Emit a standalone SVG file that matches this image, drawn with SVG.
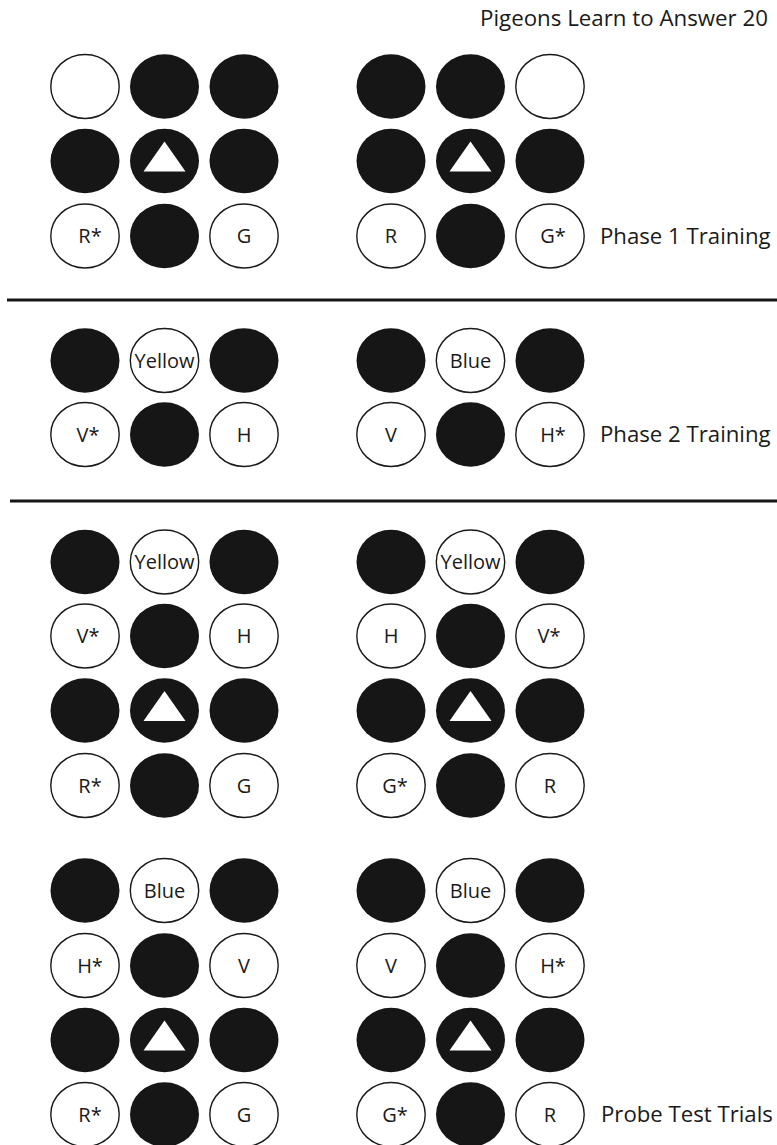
<svg xmlns="http://www.w3.org/2000/svg" xmlns:xlink="http://www.w3.org/1999/xlink" width="777" height="1145" viewBox="0 0 777 1145">
<style>
.k{fill:#161616;stroke:none}
.w{fill:#fff;stroke:#1a1a1a;stroke-width:1.4}
.t{fill:#fff}
.lb{font-family:"Open Sans","Noto Sans",sans-serif;font-size:20px;fill:#1a1a1a;text-anchor:middle}
.ph{font-family:"Open Sans","Noto Sans",sans-serif;font-size:22.2px;fill:#1a1a1a}
.sep{stroke:#161616;stroke-width:3}
</style>
<defs>
<ellipse id="B" class="k" cx="0" cy="0" rx="34.5" ry="32.3"/>
<ellipse id="W" class="w" cx="0" cy="0" rx="34.2" ry="32"/>
<g id="T"><ellipse class="k" cx="0" cy="0" rx="34.5" ry="32.3"/><polygon class="t" points="0,-19.5 21,10.5 -21,10.5"/></g>
</defs>
<rect width="777" height="1145" fill="#fff"/>
<text id="title" class="ph" x="768" y="26" text-anchor="end" textLength="288" lengthAdjust="spacingAndGlyphs">Pigeons Learn to Answer 20</text>

<g id="separators">
<line class="sep" x1="7" y1="300" x2="777" y2="300"/>
<line class="sep" x1="10" y1="501" x2="777" y2="501"/>
</g>
<g id="connectors"/>

<!-- Phase 1 left -->
<g id="p1L">
<g id="p1L-a1" transform="translate(85,86.5)"><use xlink:href="#W"/></g>
<g id="p1L-a2" transform="translate(164.5,86.5)"><use xlink:href="#B"/></g>
<g id="p1L-a3" transform="translate(244,86.5)"><use xlink:href="#B"/></g>
<g id="p1L-b1" transform="translate(85,161)"><use xlink:href="#B"/></g>
<g id="p1L-b2" transform="translate(164.5,161)"><use xlink:href="#T"/></g>
<g id="p1L-b3" transform="translate(244,161)"><use xlink:href="#B"/></g>
<g id="p1L-c1" transform="translate(85,236)"><use xlink:href="#W"/><text class="lb" x="5" y="7">R*</text></g>
<g id="p1L-c2" transform="translate(164.5,236)"><use xlink:href="#B"/></g>
<g id="p1L-c3" transform="translate(244,236)"><use xlink:href="#W"/><text class="lb" x="0" y="7">G</text></g>
</g>
<!-- Phase 1 right -->
<g id="p1R">
<g id="p1R-a1" transform="translate(391,86.5)"><use xlink:href="#B"/></g>
<g id="p1R-a2" transform="translate(470.5,86.5)"><use xlink:href="#B"/></g>
<g id="p1R-a3" transform="translate(550,86.5)"><use xlink:href="#W"/></g>
<g id="p1R-b1" transform="translate(391,161)"><use xlink:href="#B"/></g>
<g id="p1R-b2" transform="translate(470.5,161)"><use xlink:href="#T"/></g>
<g id="p1R-b3" transform="translate(550,161)"><use xlink:href="#B"/></g>
<g id="p1R-c1" transform="translate(391,236)"><use xlink:href="#W"/><text class="lb" x="0" y="7">R</text></g>
<g id="p1R-c2" transform="translate(470.5,236)"><use xlink:href="#B"/></g>
<g id="p1R-c3" transform="translate(550,236)"><use xlink:href="#W"/><text class="lb" x="3" y="7">G*</text></g>
</g>
<text id="lab-p1" class="ph" x="600" y="243.5">Phase 1 Training</text>

<!-- Phase 2 left -->
<g id="p2L">
<g id="p2L-a1" transform="translate(85,360.5)"><use xlink:href="#B"/></g>
<g id="p2L-a2" transform="translate(164.5,360.5)"><use xlink:href="#W"/><text class="lb" x="0" y="7">Yellow</text></g>
<g id="p2L-a3" transform="translate(244,360.5)"><use xlink:href="#B"/></g>
<g id="p2L-b1" transform="translate(85,434.5)"><use xlink:href="#W"/><text class="lb" x="3" y="7">V*</text></g>
<g id="p2L-b2" transform="translate(164.5,434.5)"><use xlink:href="#B"/></g>
<g id="p2L-b3" transform="translate(244,434.5)"><use xlink:href="#W"/><text class="lb" x="0" y="7">H</text></g>
</g>
<!-- Phase 2 right -->
<g id="p2R">
<g id="p2R-a1" transform="translate(391,360.5)"><use xlink:href="#B"/></g>
<g id="p2R-a2" transform="translate(470.5,360.5)"><use xlink:href="#W"/><text class="lb" x="0" y="7">Blue</text></g>
<g id="p2R-a3" transform="translate(550,360.5)"><use xlink:href="#B"/></g>
<g id="p2R-b1" transform="translate(391,434.5)"><use xlink:href="#W"/><text class="lb" x="0" y="7">V</text></g>
<g id="p2R-b2" transform="translate(470.5,434.5)"><use xlink:href="#B"/></g>
<g id="p2R-b3" transform="translate(550,434.5)"><use xlink:href="#W"/><text class="lb" x="3" y="7">H*</text></g>
</g>
<text id="lab-p2" class="ph" x="600" y="442">Phase 2 Training</text>

<!-- Probe 1 left -->
<g id="q1L">
<g id="q1L-a1" transform="translate(85,562)"><use xlink:href="#B"/></g>
<g id="q1L-a2" transform="translate(164.5,562)"><use xlink:href="#W"/><text class="lb" x="0" y="7">Yellow</text></g>
<g id="q1L-a3" transform="translate(244,562)"><use xlink:href="#B"/></g>
<g id="q1L-b1" transform="translate(85,636)"><use xlink:href="#W"/><text class="lb" x="3" y="7">V*</text></g>
<g id="q1L-b2" transform="translate(164.5,636)"><use xlink:href="#B"/></g>
<g id="q1L-b3" transform="translate(244,636)"><use xlink:href="#W"/><text class="lb" x="0" y="7">H</text></g>
<g id="q1L-c1" transform="translate(85,710.5)"><use xlink:href="#B"/></g>
<g id="q1L-c2" transform="translate(164.5,710.5)"><use xlink:href="#T"/></g>
<g id="q1L-c3" transform="translate(244,710.5)"><use xlink:href="#B"/></g>
<g id="q1L-d1" transform="translate(85,785.5)"><use xlink:href="#W"/><text class="lb" x="5" y="7">R*</text></g>
<g id="q1L-d2" transform="translate(164.5,785.5)"><use xlink:href="#B"/></g>
<g id="q1L-d3" transform="translate(244,785.5)"><use xlink:href="#W"/><text class="lb" x="0" y="7">G</text></g>
</g>
<!-- Probe 1 right -->
<g id="q1R">
<g id="q1R-a1" transform="translate(391,562)"><use xlink:href="#B"/></g>
<g id="q1R-a2" transform="translate(470.5,562)"><use xlink:href="#W"/><text class="lb" x="0" y="7">Yellow</text></g>
<g id="q1R-a3" transform="translate(550,562)"><use xlink:href="#B"/></g>
<g id="q1R-b1" transform="translate(391,636)"><use xlink:href="#W"/><text class="lb" x="0" y="7">H</text></g>
<g id="q1R-b2" transform="translate(470.5,636)"><use xlink:href="#B"/></g>
<g id="q1R-b3" transform="translate(550,636)"><use xlink:href="#W"/><text class="lb" x="-1" y="7">V*</text></g>
<g id="q1R-c1" transform="translate(391,710.5)"><use xlink:href="#B"/></g>
<g id="q1R-c2" transform="translate(470.5,710.5)"><use xlink:href="#T"/></g>
<g id="q1R-c3" transform="translate(550,710.5)"><use xlink:href="#B"/></g>
<g id="q1R-d1" transform="translate(391,785.5)"><use xlink:href="#W"/><text class="lb" x="4" y="7">G*</text></g>
<g id="q1R-d2" transform="translate(470.5,785.5)"><use xlink:href="#B"/></g>
<g id="q1R-d3" transform="translate(550,785.5)"><use xlink:href="#W"/><text class="lb" x="0" y="7">R</text></g>
</g>

<!-- Probe 2 left -->
<g id="q2L">
<g id="q2L-a1" transform="translate(85,890.5)"><use xlink:href="#B"/></g>
<g id="q2L-a2" transform="translate(164.5,890.5)"><use xlink:href="#W"/><text class="lb" x="0" y="7">Blue</text></g>
<g id="q2L-a3" transform="translate(244,890.5)"><use xlink:href="#B"/></g>
<g id="q2L-b1" transform="translate(85,965.5)"><use xlink:href="#W"/><text class="lb" x="5" y="7">H*</text></g>
<g id="q2L-b2" transform="translate(164.5,965.5)"><use xlink:href="#B"/></g>
<g id="q2L-b3" transform="translate(244,965.5)"><use xlink:href="#W"/><text class="lb" x="0" y="7">V</text></g>
<g id="q2L-c1" transform="translate(85,1040)"><use xlink:href="#B"/></g>
<g id="q2L-c2" transform="translate(164.5,1040)"><use xlink:href="#T"/></g>
<g id="q2L-c3" transform="translate(244,1040)"><use xlink:href="#B"/></g>
<g id="q2L-d1" transform="translate(85,1114.5)"><use xlink:href="#W"/><text class="lb" x="5" y="7">R*</text></g>
<g id="q2L-d2" transform="translate(164.5,1114.5)"><use xlink:href="#B"/></g>
<g id="q2L-d3" transform="translate(244,1114.5)"><use xlink:href="#W"/><text class="lb" x="0" y="7">G</text></g>
</g>
<!-- Probe 2 right -->
<g id="q2R">
<g id="q2R-a1" transform="translate(391,890.5)"><use xlink:href="#B"/></g>
<g id="q2R-a2" transform="translate(470.5,890.5)"><use xlink:href="#W"/><text class="lb" x="0" y="7">Blue</text></g>
<g id="q2R-a3" transform="translate(550,890.5)"><use xlink:href="#B"/></g>
<g id="q2R-b1" transform="translate(391,965.5)"><use xlink:href="#W"/><text class="lb" x="0" y="7">V</text></g>
<g id="q2R-b2" transform="translate(470.5,965.5)"><use xlink:href="#B"/></g>
<g id="q2R-b3" transform="translate(550,965.5)"><use xlink:href="#W"/><text class="lb" x="3" y="7">H*</text></g>
<g id="q2R-c1" transform="translate(391,1040)"><use xlink:href="#B"/></g>
<g id="q2R-c2" transform="translate(470.5,1040)"><use xlink:href="#T"/></g>
<g id="q2R-c3" transform="translate(550,1040)"><use xlink:href="#B"/></g>
<g id="q2R-d1" transform="translate(391,1114.5)"><use xlink:href="#W"/><text class="lb" x="4" y="7">G*</text></g>
<g id="q2R-d2" transform="translate(470.5,1114.5)"><use xlink:href="#B"/></g>
<g id="q2R-d3" transform="translate(550,1114.5)"><use xlink:href="#W"/><text class="lb" x="0" y="7">R</text></g>
</g>
<text id="lab-probe" class="ph" x="601" y="1122">Probe Test Trials</text>
</svg>
